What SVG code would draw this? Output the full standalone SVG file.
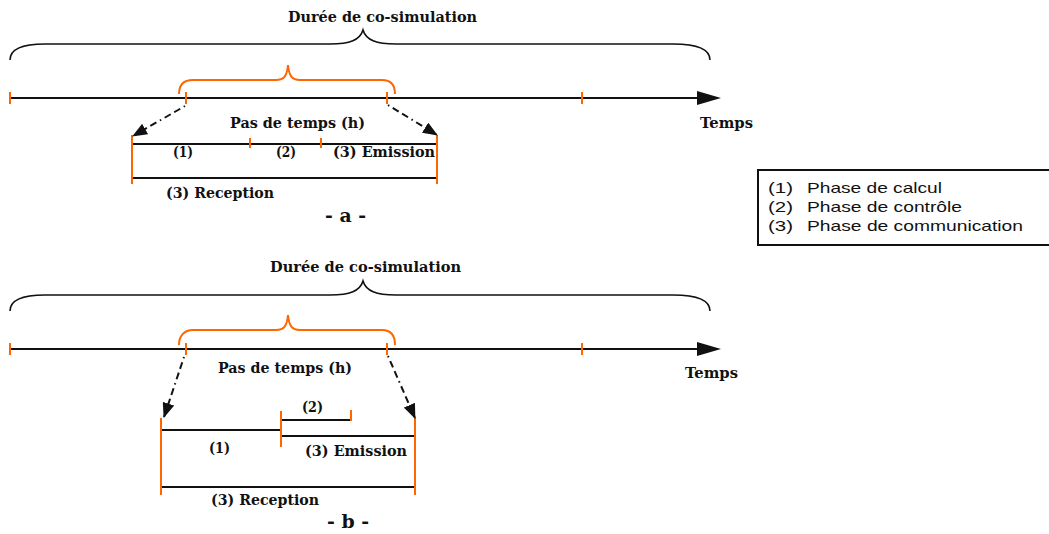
<svg xmlns="http://www.w3.org/2000/svg" width="1049" height="534" viewBox="0 0 1049 534">
<style>
.t{font-family:"DejaVu Serif","Liberation Serif",serif;font-weight:bold;font-size:15px;fill:#111}
.big{font-size:18px}
.leg{font-family:"Liberation Sans",Arial,sans-serif;font-size:14.5px;fill:#111}
.blk{stroke:#111;stroke-width:2;fill:none}
.br{stroke:#111;stroke-width:1.6;fill:none}
.or{stroke:#ff6600;stroke-width:2;fill:none}
.dd{stroke:#111;stroke-width:2;fill:none;stroke-dasharray:1.5,4,7,4,7,4}
</style>
<defs>
<marker id="ah" viewBox="0 0 15 12" refX="14" refY="6" markerWidth="15" markerHeight="12" markerUnits="userSpaceOnUse" orient="auto">
<path d="M0,0 L15,6 L0,12 z" fill="#111"/>
</marker>
</defs>
<rect width="1049" height="534" fill="#fff"/>

<g id="diagram-a">
<g id="a-cosim">
<path class="br" d="M10,60 C10,50 20,44 45,44 L330,44 C350,44 360,40 363,30 C366,40 376,44 396,44 L673,44 C698,44 710,50 710,60"/>
<text class="t" x="288" y="22" textLength="189" lengthAdjust="spacingAndGlyphs">Durée de co-simulation</text>
</g>
<g id="a-timeline">
<line class="blk" x1="10" y1="98" x2="700" y2="98"/>
<path d="M697,91 L721,98 L697,105 z" fill="#111"/>
<line class="or" x1="10" y1="92" x2="10" y2="104"/>
<line class="or" x1="186" y1="92" x2="186" y2="104"/>
<line class="or" x1="387" y1="92" x2="387" y2="104"/>
<line class="or" x1="582" y1="92" x2="582" y2="104"/>
<text class="t" x="700" y="128" textLength="53" lengthAdjust="spacingAndGlyphs">Temps</text>
</g>
<g id="a-step">
<path class="or" d="M179,94 C179,85 184,80 193,80 L276,80 C284,80 287,76 288,65 C289,76 292,80 300,80 L382,80 C391,80 395,85 395,94"/>
<text class="t" x="230" y="128" textLength="135" lengthAdjust="spacingAndGlyphs">Pas de temps (h)</text>
</g>
<g id="a-detail">
<line class="blk" x1="132" y1="144" x2="437" y2="144"/>
<line class="blk" x1="132" y1="178" x2="437" y2="178"/>
<line class="or" x1="132" y1="135" x2="132" y2="184"/>
<line class="or" x1="437" y1="135" x2="437" y2="184"/>
<line class="or" x1="250" y1="138" x2="250" y2="148"/>
<line class="or" x1="321" y1="138" x2="321" y2="148"/>
<text class="t" x="173" y="157" textLength="20" lengthAdjust="spacingAndGlyphs">(1)</text>
<text class="t" x="276" y="157" textLength="20" lengthAdjust="spacingAndGlyphs">(2)</text>
<text class="t" x="333" y="157" textLength="102" lengthAdjust="spacingAndGlyphs">(3) Emission</text>
<text class="t" x="166" y="198" textLength="108" lengthAdjust="spacingAndGlyphs">(3) Reception</text>
</g>
<text class="t big" x="325" y="222" textLength="41" lengthAdjust="spacingAndGlyphs">- a -</text>
</g>

<g id="diagram-b">
<g id="b-cosim">
<path class="br" d="M10,311 C10,301 20,295 45,295 L330,295 C350,295 360,291 363,281 C366,291 376,295 396,295 L673,295 C698,295 710,301 710,311"/>
<text class="t" x="270" y="272" textLength="191" lengthAdjust="spacingAndGlyphs">Durée de co-simulation</text>
</g>
<g id="b-timeline">
<line class="blk" x1="10" y1="349" x2="700" y2="349"/>
<path d="M697,342 L721,349 L697,356 z" fill="#111"/>
<line class="or" x1="10" y1="343" x2="10" y2="355"/>
<line class="or" x1="186" y1="343" x2="186" y2="355"/>
<line class="or" x1="387" y1="343" x2="387" y2="355"/>
<line class="or" x1="582" y1="343" x2="582" y2="355"/>
<text class="t" x="685" y="378" textLength="53" lengthAdjust="spacingAndGlyphs">Temps</text>
</g>
<g id="b-step">
<path class="or" d="M179,345 C179,336 184,330 193,330 L276,330 C284,330 287,326 288,315 C289,326 292,330 300,330 L382,330 C391,330 395,336 395,345"/>
<text class="t" x="218" y="373" textLength="134" lengthAdjust="spacingAndGlyphs">Pas de temps (h)</text>
</g>
<g id="b-detail">
<line class="blk" x1="161" y1="430" x2="281" y2="430"/>
<line class="blk" x1="281" y1="420" x2="351" y2="420"/>
<line class="blk" x1="281" y1="436" x2="415" y2="436"/>
<line class="blk" x1="161" y1="487" x2="415" y2="487"/>
<line class="or" x1="161" y1="418" x2="161" y2="495"/>
<line class="or" x1="415" y1="418" x2="415" y2="495"/>
<line class="or" x1="281" y1="411" x2="281" y2="447"/>
<line class="or" x1="351" y1="410" x2="351" y2="421"/>
<text class="t" x="302" y="412" textLength="21" lengthAdjust="spacingAndGlyphs">(2)</text>
<text class="t" x="209" y="453" textLength="21" lengthAdjust="spacingAndGlyphs">(1)</text>
<text class="t" x="305" y="456" textLength="102" lengthAdjust="spacingAndGlyphs">(3) Emission</text>
<text class="t" x="211" y="505" textLength="108" lengthAdjust="spacingAndGlyphs">(3) Reception</text>
</g>
<text class="t big" x="327" y="528" textLength="42" lengthAdjust="spacingAndGlyphs">- b -</text>
</g>

<g id="connectors">
<line class="dd" x1="185" y1="106" x2="133" y2="136" marker-end="url(#ah)"/>
<line class="dd" x1="388" y1="105" x2="437" y2="135" marker-end="url(#ah)"/>
<line class="dd" x1="184" y1="357" x2="164" y2="417" marker-end="url(#ah)"/>
<line class="dd" x1="388" y1="356" x2="415" y2="418" marker-end="url(#ah)"/>
</g>

<g id="legend">
<rect x="758" y="170" width="300" height="75" fill="#fff" stroke="#111" stroke-width="2"/>
<text class="leg" x="768" y="193" textLength="25" lengthAdjust="spacingAndGlyphs">(1)</text>
<text class="leg" x="807" y="193" textLength="135" lengthAdjust="spacingAndGlyphs">Phase de calcul</text>
<text class="leg" x="768" y="212" textLength="25" lengthAdjust="spacingAndGlyphs">(2)</text>
<text class="leg" x="807" y="212" textLength="155" lengthAdjust="spacingAndGlyphs">Phase de contrôle</text>
<text class="leg" x="768" y="231" textLength="25" lengthAdjust="spacingAndGlyphs">(3)</text>
<text class="leg" x="807" y="231" textLength="216" lengthAdjust="spacingAndGlyphs">Phase de communication</text>
</g>
</svg>
